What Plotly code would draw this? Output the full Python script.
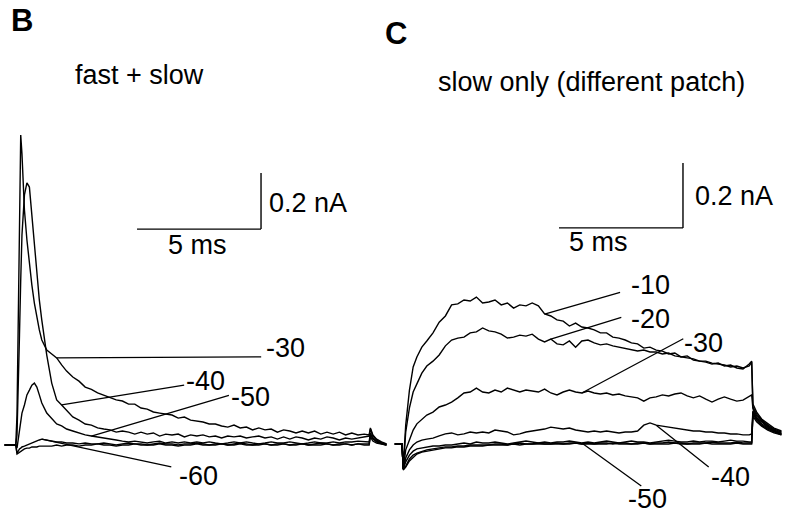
import plotly.graph_objects as go

# ---------------------------------------------------------------------------
# Panel B: fast + slow currents (time in ms, current in pA)
# ---------------------------------------------------------------------------
T_B = [-0.5, -0.05, 0, 0.05, 0.1, 0.15, 0.2, 0.3, 0.4, 0.5, 0.6, 0.7, 0.8, 0.9, 1.0,
       1.2, 1.4, 1.6, 1.8, 2.0,
       2.25, 2.5, 2.75, 3.0, 3.25, 3.5, 3.75, 4.0, 4.25, 4.5, 4.75, 5.0,
       5.25, 5.5, 5.75, 6.0, 6.25, 6.5, 6.75, 7.0, 7.25, 7.5, 7.75, 8.0,
       8.25, 8.5, 8.75, 9.0, 9.25, 9.5, 9.75, 10.0, 10.25, 10.5, 10.75, 11.0,
       11.25, 11.5, 11.75, 12.0, 12.25, 12.5, 12.75, 13.0, 13.25, 13.5, 13.75, 14.0,
       14.2, 14.25, 14.35, 14.5, 14.7, 14.9]

B_m30 = [0, 0, 107, 429, 821, 1107, 1040, 839, 732, 643, 571, 507, 454, 411, 375,
         339, 325, 311, 286, 264,
         243, 228, 207, 199, 186, 178, 168, 161, 157, 146, 146, 132,
         128, 118, 114, 111, 107, 96, 100, 89, 86, 82, 75, 75,
         68, 64, 71, 61, 64, 54, 61, 54, 57, 46, 54, 50,
         43, 50, 43, 50, 39, 46, 39, 46, 36, 43, 36, 39,
         36, 61, 36, 21, 11, 4]
B_m40 = [0, 0, 36, 179, 393, 589, 750, 893, 936, 921, 821, 696, 607, 518, 446,
         321, 221, 161, 143, 125,
         100, 89, 75, 71, 61, 57, 54, 46, 50, 46, 39, 46,
         39, 43, 32, 39, 36, 39, 29, 36, 32, 36, 29, 32,
         25, 32, 29, 32, 25, 29, 32, 25, 29, 21, 29, 21,
         29, 25, 18, 25, 21, 29, 25, 18, 25, 21, 25, 29,
         32, 57, 32, 18, 7, 4]
B_m50 = [0, 0, -11, 18, 54, 79, 114, 143, 179, 196, 214, 221, 207, 179, 150,
         114, 93, 75, 68, 57,
         50, 43, 36, 32, 29, 25, 21, 18, 14, 11, 14, 11,
         7, 11, 14, 7, 11, 7, 11, 7, 11, 7, 11, 7,
         4, 7, 11, 7, 11, 7, 4, 7, 11, 7, 7, 11,
         7, 4, 7, 11, 7, 7, 11, 7, 11, 11, 14, 11,
         11, 43, 25, 14, 7, 0]
B_m60 = [0, 0, -29, -21, -14, -11, -7, -4, 0, 4, 7, 11, 14, 18, 21,
         18, 14, 11, 11, 7,
         7, 4, 7, 4, 4, 7, 4, 0, 4, 7, 4, 4,
         0, 4, 7, 4, 4, 0, 4, 4, 7, 4, 0, 4,
         4, 0, 4, 7, 4, 0, 4, 4, 0, 4, 4, 0,
         4, 4, 0, 4, 7, 4, 0, 4, 4, 0, 4, 4,
         4, 36, 21, 11, 4, 0]
B_m70 = [0, 0, -32, -29, -25, -21, -18, -14, -11, -11, -7, -7, -7, -4, -4,
         -4, -4, 0, -4, 0,
         0, -4, 0, 0, 4, 0, 0, -4, 0, 0, 4, 0,
         0, 0, 4, 0, 0, -4, 0, 0, 4, 0, 0, 0,
         4, 0, 0, 4, 0, 0, 0, 4, 0, 0, 4, 0,
         0, 4, 0, 0, 0, 4, 0, 0, 4, 0, 4, 0,
         0, 29, 14, 7, 4, 0]

# ---------------------------------------------------------------------------
# Panel C: slow only, different patch
# ---------------------------------------------------------------------------
T_C = [-0.3, 0, 0.05, 0.15, 0.3, 0.45, 0.6, 0.8, 1.0, 1.25, 1.5, 1.75, 2.0,
       2.25, 2.5, 2.75, 3.0, 3.25, 3.5, 3.75, 4.0, 4.25, 4.5, 4.75, 5.0,
       5.25, 5.5, 5.75, 6.0, 6.25, 6.5, 6.75, 7.0, 7.25, 7.5, 7.75, 8.0,
       8.25, 8.5, 8.75, 9.0, 9.25, 9.5, 9.75, 10.0, 10.25, 10.5, 10.75, 11.0,
       11.25, 11.5, 11.75, 12.0, 12.25, 12.5, 12.75, 13.0, 13.25, 13.5, 13.75, 14.0,
       14.1, 14.15, 14.3, 14.5, 14.75, 15.0, 15.3]

C_m10 = [0, 0, -68, 58, 166, 237, 268, 298, 317, 342, 375, 394, 428,
         431, 443, 440, 452, 434, 437, 443, 428, 434, 418, 428, 425,
         434, 425, 400, 394, 382, 378, 363, 372, 360, 357, 351, 342,
         342, 329, 326, 320, 311, 308, 295, 298, 289, 286, 277, 280,
         268, 271, 258, 255, 252, 246, 249, 240, 243, 234, 231, 246,
         255, 123, 98, 77, 62, 49, 40]
C_m20 = [0, 0, -74, 37, 111, 160, 185, 218, 240, 255, 274, 302, 320,
         326, 329, 342, 345, 357, 348, 345, 338, 326, 329, 335, 332,
         338, 323, 314, 323, 308, 305, 317, 298, 317, 320, 311, 305,
         308, 302, 298, 295, 292, 286, 289, 283, 283, 277, 280, 271,
         268, 265, 262, 255, 255, 249, 246, 243, 237, 240, 234, 240,
         252, 114, 92, 74, 58, 46, 37]
C_m30 = [0, 0, -77, -18, 12, 43, 62, 77, 89, 98, 114, 120, 129,
         142, 157, 160, 172, 160, 157, 166, 160, 172, 166, 160, 166,
         163, 160, 169, 157, 151, 160, 166, 160, 157, 163, 157, 154,
         157, 151, 154, 148, 145, 142, 132, 142, 145, 151, 148, 154,
         157, 148, 142, 148, 138, 129, 138, 145, 138, 132, 135, 145,
         151, 108, 86, 71, 55, 43, 34]
C_m40 = [0, 0, -77, -43, -18, -3, 6, 12, 15, 18, 25, 31, 34,
         28, 31, 37, 34, 37, 34, 43, 40, 37, 28, 31, 37,
         40, 43, 46, 52, 49, 46, 49, 43, 40, 37, 40, 37,
         40, 37, 34, 37, 37, 40, 58, 65, 58, 55, 52, 49,
         46, 43, 40, 40, 37, 37, 34, 34, 31, 31, 28, 28,
         31, 102, 80, 68, 52, 40, 31]
C_m50 = [0, 0, -77, -55, -34, -22, -15, -12, -9, -6, -6, -3, -3,
         0, 3, 0, 6, 3, 3, 6, 3, 0, 3, 6, 9,
         6, 3, 6, 3, 6, 6, 9, 6, 3, 6, 3, 6,
         9, 6, 3, 6, 9, 6, 6, 3, 6, 9, 12, 9,
         6, 6, 9, 6, 9, 9, 6, 9, 12, 9, 9, 6,
         6, 92, 74, 58, 46, 37, 28]
C_m60 = [0, 0, -77, -68, -46, -34, -28, -22, -18, -15, -12, -9, -9,
         -6, -6, -3, -3, -3, -3, 0, 0, -3, 0, 3, 0,
         0, 3, 0, 0, 3, 0, 3, 3, 0, 3, 0, 3,
         3, 0, 3, 3, 0, 3, 3, 0, 3, 3, 6, 3,
         3, 0, 3, 3, 3, 6, 3, 3, 3, 6, 3, 3,
         3, 98, 77, 62, 49, 40, 31]
C_m70 = [0, 0, -80, -71, -52, -40, -31, -25, -22, -18, -15, -12, -12,
         -9, -9, -6, -6, -6, -3, -3, -3, -3, 0, -3, 0,
         0, 0, 0, 0, 0, 0, 0, 3, 0, 0, 0, 0,
         0, 3, 0, 0, 0, 0, 3, 0, 0, 0, 0, 3,
         0, 0, 0, 0, 3, 0, 0, 0, 0, 3, 0, 0,
         0, 86, 68, 55, 43, 34, 28]

TRACES_B = {"-30": B_m30, "-40": B_m40, "-50": B_m50, "-60": B_m60, "-70": B_m70}
TRACES_C = {"-10": C_m10, "-20": C_m20, "-30": C_m30, "-40": C_m40,
            "-50": C_m50, "-60": C_m60, "-70": C_m70}

for tr in TRACES_B.values():
    assert len(tr) == len(T_B)
for tr in TRACES_C.values():
    assert len(tr) == len(T_C)

# Calibration bars: 5 ms, 0.2 nA
BAR_T_MS = 5
BAR_I_PA = 200
BAR_B_CORNER = (9.84, 771)   # (ms, pA) in panel B
BAR_C_CORNER = (11.33, 665)  # (ms, pA) in panel C

W, H = 789, 513
FONT = "Liberation Sans, Arial, Helvetica, sans-serif"
TXT = 27

fig = go.Figure()

for name, vals in TRACES_B.items():
    fig.add_trace(go.Scatter(x=T_B, y=vals, mode="lines", name=name,
                             line=dict(color="black", width=1.4),
                             xaxis="x", yaxis="y", showlegend=False))
for name, vals in TRACES_C.items():
    fig.add_trace(go.Scatter(x=T_C, y=vals, mode="lines", name=name,
                             line=dict(color="black", width=1.4),
                             xaxis="x2", yaxis="y2", showlegend=False))

shapes = []
for (xr, yr), (t0, i0) in ((("x", "y"), BAR_B_CORNER), (("x2", "y2"), BAR_C_CORNER)):
    shapes.append(dict(type="line", xref=xr, yref=yr, x0=t0 - BAR_T_MS, x1=t0,
                       y0=i0, y1=i0, line=dict(color="black", width=1.4)))
    shapes.append(dict(type="line", xref=xr, yref=yr, x0=t0, x1=t0,
                       y0=i0, y1=i0 + BAR_I_PA, line=dict(color="black", width=1.4)))

annotations = []


def px_text(text, px, py, size=TXT, anchor="left", bold=False):
    annotations.append(dict(
        text=f"<b>{text}</b>" if bold else text,
        xref="paper", yref="paper", x=px / W, y=1 - py / H,
        xanchor=anchor, yanchor="middle", showarrow=False,
        font=dict(family=FONT, size=size, color="black")))


# Leader lines from a sample on each trace out to its voltage label
leaders = [
    ("x", "y", T_B, B_m30, 1.6, 206, -1),
    ("x", "y", T_B, B_m40, 1.8, 124, -20),
    ("x", "y", T_B, B_m50, 3.0, 139, -41),
    ("x", "y", T_B, B_m60, 1.0, 131, 28),
    ("x2", "y2", T_C, C_m10, 5.75, 77, -22),
    ("x2", "y2", T_C, C_m20, 6.0, 72, -22),
    ("x2", "y2", T_C, C_m30, 7.25, 103, -55),
    ("x2", "y2", T_C, C_m40, 10.25, 54, 43),
    ("x2", "y2", T_C, C_m50, 7.25, 61, 44),
]
for xr, yr, tt, vals, t_at, ax, ay in leaders:
    k = tt.index(t_at)
    annotations.append(dict(
        text="", xref=xr, yref=yr, x=tt[k], y=vals[k], ax=ax, ay=ay,
        showarrow=True, arrowhead=0, arrowwidth=1.3, arrowcolor="black",
        standoff=0, startstandoff=0))

# Panel letters and titles
px_text("B", 22, 20, size=31, anchor="center", bold=True)
px_text("C", 396, 33, size=31, anchor="center", bold=True)
px_text("fast + slow", 139, 75, anchor="center")
px_text("slow only (different patch)", 591, 82, anchor="center")

# Calibration labels
px_text("0.2 nA", 267, 203)
px_text("5 ms", 198, 245, anchor="center")
px_text("0.2 nA", 693, 196)
px_text("5 ms", 598, 242, anchor="center")

# Voltage labels
px_text("-30", 264, 348)
px_text("-40", 184, 381)
px_text("-50", 229, 397)
px_text("-60", 177, 476)
px_text("-10", 629, 285)
px_text("-20", 629, 319)
px_text("-30", 682, 343)
px_text("-40", 709, 477)
px_text("-50", 626, 499)

hidden = dict(visible=False, showgrid=False, zeroline=False, fixedrange=True)

fig.update_layout(
    width=W, height=H,
    margin=dict(l=0, r=0, t=0, b=0),
    paper_bgcolor="white", plot_bgcolor="white",
    xaxis=dict(domain=[0, 0.5], range=[-0.6855, 15.222], **hidden),
    yaxis=dict(domain=[0, 1], range=[-242.8, 1589.1], **hidden),
    xaxis2=dict(domain=[0.5, 1], range=[-0.3024, 15.605], anchor="y2", **hidden),
    yaxis2=dict(domain=[0, 1], range=[-212.3, 1366.2], anchor="x2", **hidden),
    shapes=shapes,
    annotations=annotations,
    showlegend=False,
)

fig.write_html("out.html")
